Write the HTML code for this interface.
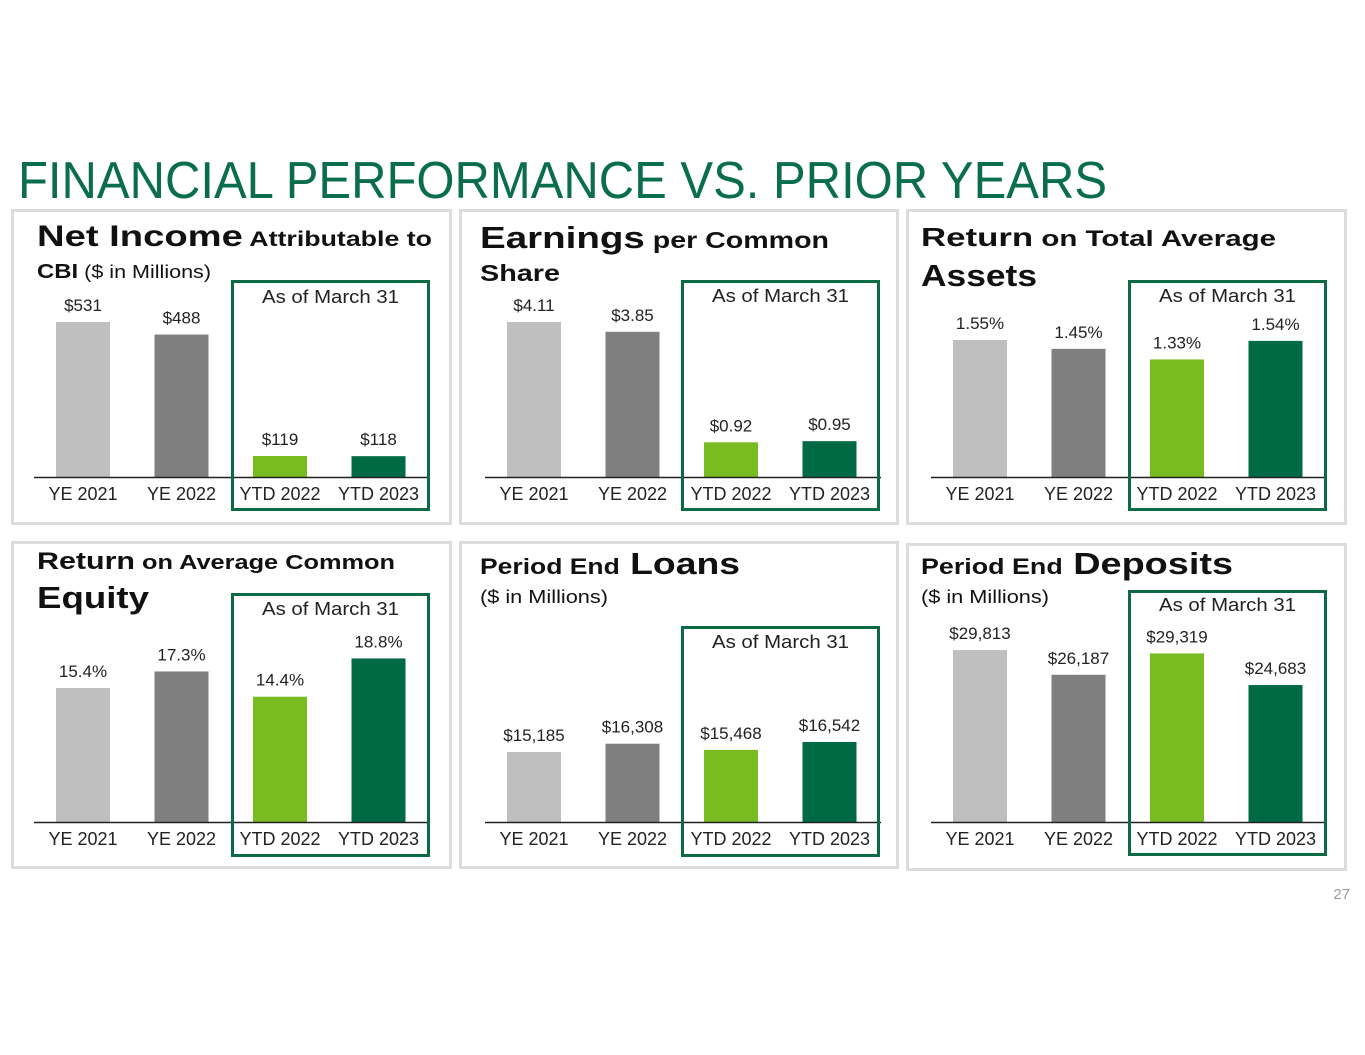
<!DOCTYPE html>
<html><head><meta charset="utf-8"><style>
html,body{margin:0;padding:0;background:#fff;}
svg{display:block;font-family:"Liberation Sans",sans-serif;}
</style></head><body>
<svg id="s" width="1365" height="1055" viewBox="0 0 1365 1055" xmlns="http://www.w3.org/2000/svg">
<text x="18" y="198" font-size="52" fill="#0b6e4b" textLength="1089" lengthAdjust="spacingAndGlyphs">FINANCIAL PERFORMANCE VS. PRIOR YEARS</text>
<text x="1350" y="899" font-size="15" fill="#9a9a9a" text-anchor="end">27</text>
</svg>
<script>
const categories = ["YE 2021","YE 2022","YTD 2022","YTD 2023"];
const netIncomeValues = [531,488,119,118];
const netIncomeLabels = ["$531","$488","$119","$118"];
const epsValues = [4.11,3.85,0.92,0.95];
const epsLabels = ["$4.11","$3.85","$0.92","$0.95"];
const roaValues = [1.55,1.45,1.33,1.54];
const roaLabels = ["1.55%","1.45%","1.33%","1.54%"];
const roeValues = [15.4,17.3,14.4,18.8];
const roeLabels = ["15.4%","17.3%","14.4%","18.8%"];
const loansValues = [15185,16308,15468,16542];
const loansLabels = ["$15,185","$16,308","$15,468","$16,542"];
const depositsValues = [29813,26187,29319,24683];
const depositsLabels = ["$29,813","$26,187","$29,319","$24,683"];
const barColors = ["#bfbfbf","#7f7f7f","#78bc22","#006a45"];

const NS = "http://www.w3.org/2000/svg";
const svg = document.getElementById('s');
function mk(tag, attrs, parent){
  const e = document.createElementNS(NS, tag);
  for (const k in attrs) e.setAttribute(k, attrs[k]);
  (parent||svg).appendChild(e);
  return e;
}
function txt(parent, x, y, str, size, weight, anchor, fill, len){
  const t = mk('text', {x:x, y:y, 'font-size':size, 'font-weight':weight||'normal', 'text-anchor':anchor||'start', fill:fill||'#111'}, parent);
  if (len){ t.setAttribute('textLength', len); t.setAttribute('lengthAdjust','spacingAndGlyphs'); }
  t.textContent = str;
  return t;
}

const panels = [
  {name:'net-income', box:[11,209,441,316], ax:34, base:477, vals:netIncomeValues, labels:netIncomeLabels, min:0, sYE:155/531, sYTD:21/119, green:[231,280,199,231], asofY:303,
   title:[[ [ 'Net Income',30,'bold' ], [' Attributable to',21,'bold'] ], 37,246,395], sub:[[ ['CBI',20,'bold'],[' ($ in Millions)',18,'normal'] ],37,278,174]},
  {name:'eps', box:[459,209,440,316], ax:485, base:477, vals:epsValues, labels:epsLabels, min:0, sYE:155/4.11, sYTD:155/4.11, green:[681,280,199,231], asofY:302,
   title:[[ ['Earnings',31,'bold'],[' per Common',23,'bold'] ],480,248,349], sub:[[ ['Share',23,'bold'] ],480,281,80]},
  {name:'roa', box:[906,209,441,316], ax:931, base:477, vals:roaValues, labels:roaLabels, min:0, sYE:137/1.55, sYTD:137/1.55, green:[1128,280,199,231], asofY:302,
   title:[[ ['Return',26,'bold'],[' on Total Average',22,'bold'] ],921,246,355], sub:[[ ['Assets',31,'bold'] ],921,286,116]},
  {name:'roe', box:[11,541,441,328], ax:34, base:822, vals:roeValues, labels:roeLabels, min:0, sYE:134/15.4, sYTD:134/15.4, green:[231,593,199,264], asofY:615,
   title:[[ ['Return',24,'bold'],[' on Average Common',20,'bold'] ],37,569,358], sub:[[ ['Equity',31,'bold'] ],37,608,112]},
  {name:'loans', box:[459,541,440,328], ax:485, base:822, vals:loansValues, labels:loansLabels, min:5685, sYE:0.00737, sYTD:0.00737, green:[681,626,199,231], asofY:648,
   title:[[ ['Period End',22,'bold'],[' Loans',31,'bold'] ],480,574,260], sub:[[ ['($ in Millions)',18,'normal'] ],480,603,128]},
  {name:'deposits', box:[906,543,441,328], ax:931, base:822, vals:depositsValues, labels:depositsLabels, min:4600, sYE:0.00682, sYTD:0.00682, green:[1128,590,199,266], asofY:611,
   title:[[ ['Period End',22,'bold'],[' Deposits',31,'bold'] ],921,574,312], sub:[[ ['($ in Millions)',18,'normal'] ],921,603,128]}
];

function xCenter(p, i){ return p.ax + 49 + i*98.5; }
function barHeight(p, i){ const s = i < 2 ? p.sYE : p.sYTD; return (p.vals[i] - p.min) * s; }

panels.forEach(p => {
  const g = mk('g', {});
  
  
  const b = p.box;
  const frame = mk('rect', {x:b[0]+1.5, y:b[1]+1.5, width:b[2]-3, height:b[3]-3, fill:'#fff', stroke:'#dcdcdc', 'stroke-width':3}, g);
  
  

  [p.title, p.sub].forEach((t, k) => {
    const te = mk('text', {x:t[1], y:t[2], fill:'#111', textLength:t[3], lengthAdjust:'spacingAndGlyphs'}, g);
    
    
    t[0].forEach(seg => {
      const ts = mk('tspan', {'font-size':seg[1], 'font-weight':seg[2]}, te);
      ts.textContent = seg[0];
    });
  });

  for (let i = 0; i < categories.length; i++){
    const h = barHeight(p, i);
    const cx = xCenter(p, i);
    const r = mk('rect', {x:cx-27, y:p.base-h, width:54, height:h, fill:barColors[i]}, g);
    
    
    const vl = txt(g, cx, p.base - h - 11, p.labels[i], 17, 'normal', 'middle', '#222');
    
    
    const cl = txt(g, cx, p.base + 23, categories[i], 18, 'normal', 'middle', '#222');
    
    
  }
  const axis = mk('line', {x1:p.ax, y1:p.base+0.5, x2:p.ax+396, y2:p.base+0.5, stroke:'#222', 'stroke-width':1.5}, g);
  
  

  const gr = p.green;
  const gb = mk('rect', {x:gr[0]+1.5, y:gr[1]+1.5, width:gr[2]-3, height:gr[3]-3, fill:'none', stroke:'#0a6b45', 'stroke-width':3}, g);
  
  
  const at = txt(g, gr[0] + gr[2]/2, p.asofY, 'As of March 31', 18, 'normal', 'middle', '#222', 137);
  
  
});
</script>
</body></html>
